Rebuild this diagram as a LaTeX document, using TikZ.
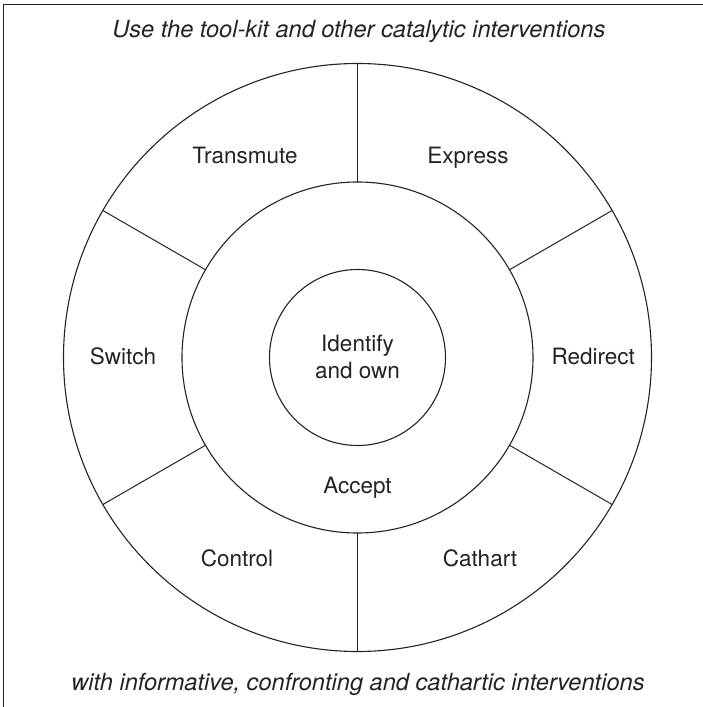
\documentclass[tikz,border=0pt]{standalone}
\usepackage{fontspec}
\setmainfont{TeX Gyre Heros}
\usepackage{tikz}
\definecolor{ink}{RGB}{35, 35, 35}

\tikzset{
  ring/.style={draw=ink, line width=1.1pt},
  spoke/.style={draw=ink, line width=1pt},
  label/.style={text=ink, anchor=base, font=\fontsize{22.5}{27}\selectfont},
  caption/.style={text=ink, anchor=base, font=\fontsize{23.6}{27}\selectfont\itshape}
}

\begin{document}
\begin{tikzpicture}[x=1pt, y=1pt]
            \useasboundingbox (-357.5,-349.5) rectangle (345.5,357.5);
            \draw[ink, line width=1.3pt] (-354,-349.5) -- (-354,353) -- (345.5,353);
            \draw[ring] (0,0) circle (294);
            \draw[ring] (0,0) circle (175.5);
            \draw[ring] (0,0) circle (88);
            \draw[spoke] ( 90:175.5) -- ( 90:294);
            \draw[spoke] ( 30:175.5) -- ( 30:294);
            \draw[spoke] (150:175.5) -- (150:294);
            \draw[spoke] (210:175.5) -- (210:294);
            \draw[spoke] (270:175.5) -- (270:294);
            \draw[spoke] (330:175.5) -- (330:294);
            \node[caption] (toolkit) at (1.4, 320.2) {Use the tool-kit and other catalytic interventions};
            \node[caption] (informative) at (0.5,-333.2) {with informative, confronting and cathartic interventions};
            \node[label] (transmute) at (-112.5, 193.5) {Transmute};
            \node[label] (express)   at ( 110.5, 193.5) {Express};
            \node[label] (switch)    at (-234.5,  -7.5) {Switch};
            \node[label] (redirect)  at ( 235.8,  -7.0) {Redirect};
            \node[label] (control)   at (-120.5,-208.5) {Control};
            \node[label] (cathart)   at ( 122.5,-208.5) {Cathart};
            \node[label] (accept)    at (     0,-135.5) {Accept};
            \node[label, anchor=center, align=center] (identify) at (0,0.3) {Identify\\and own};
        \end{tikzpicture}
\end{document}
